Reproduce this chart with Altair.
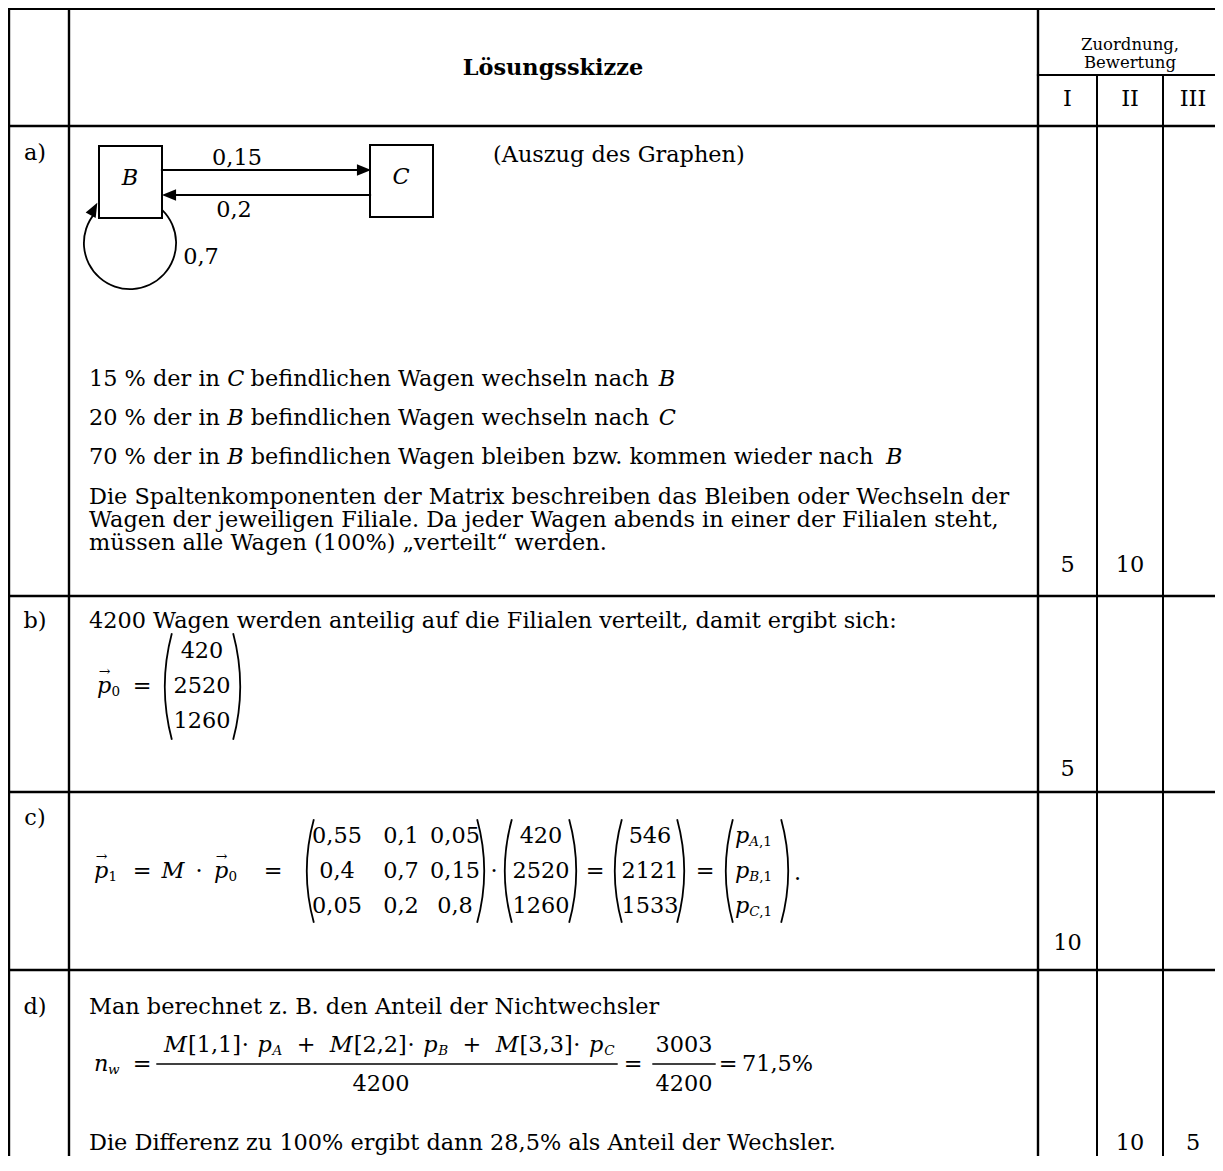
import math
import altair as alt
import pandas as pd

# ---------------- content (values / texts) ----------------
header_title = "Lösungsskizze"
header_side = ["Zuordnung,", "Bewertung"]
levels = ["I", "II", "III"]
part_labels = ["a)", "b)", "c)", "d)"]

graph_nodes = ["B", "C"]
graph_weights = ["0,15", "0,2", "0,7"]
graph_caption = "(Auszug des Graphen)"

a_lines = [
    [("15 % der in ", "r"), ("C", "i"), (" befindlichen Wagen wechseln nach ", "r"), ("B", "i")],
    [("20 % der in ", "r"), ("B", "i"), (" befindlichen Wagen wechseln nach ", "r"), ("C", "i")],
    [("70 % der in ", "r"), ("B", "i"), (" befindlichen Wagen bleiben bzw. kommen wieder nach ", "r"), ("B", "i")],
]
a_paragraph = [
    "Die Spaltenkomponenten der Matrix beschreiben das Bleiben oder Wechseln der",
    "Wagen der jeweiligen Filiale. Da jeder Wagen abends in einer der Filialen steht,",
    "müssen alle Wagen (100%) „verteilt“ werden.",
]
b_text = "4200 Wagen werden anteilig auf die Filialen verteilt, damit ergibt sich:"
p0_values = ["420", "2520", "1260"]
matrix_M = [["0,55", "0,1", "0,05"], ["0,4", "0,7", "0,15"], ["0,05", "0,2", "0,8"]]
p1_values = ["546", "2121", "1533"]
branch_names = ["A", "B", "C"]
d_text1 = "Man berechnet z. B. den Anteil der Nichtwechsler"
d_total = "4200"
d_stay = "3003"
d_result = "71,5%"
d_text2 = "Die Differenz zu 100% ergibt dann 28,5% als Anteil der Wechsler."
scores = [["5", "10", ""], ["5", "", ""], ["10", "", ""], ["", "10", "5"]]

# ---------------- layout (reference pixel coordinates) ----------------
FONT = "DejaVu Serif"
FS = 22.4
FS_SUB = 13.5
FS_SMALL = 16.5
X_DOM = [8, 1215]
Y_DOM = [8, 1156]
W_VIEW = X_DOM[1] - X_DOM[0]
H_VIEW = Y_DOM[1] - Y_DOM[0]

h_lines = [8.7, 126, 596, 792, 970]
v_lines_full = [9, 69, 1038]
v_lines_sub = [1097, 1163]
split_y = 75
right_edge, bottom_edge = 1223, 1171
level_cx = [1067.5, 1130, 1193]
label_cx = 35
label_y = [153, 621, 818, 1007]
score_y = [565, 769, 943, 1143]
text_x0 = 89

# DejaVu Serif advance widths (1/1000 em, approximate)
W_R = {' ': 318, '%': 950, '(': 390, ')': 390, ',': 318, '.': 318, ':': 337, '[': 390, ']': 390,
       '=': 838, '+': 838, '·': 318, '„': 518, '“': 518, 'ü': 644, 'ö': 602,
       'A': 722, 'B': 730, 'C': 729, 'D': 770, 'F': 684, 'M': 872, 'N': 810, 'S': 646, 'W': 1028,
       'a': 596, 'b': 640, 'c': 560, 'd': 640, 'e': 592, 'f': 370, 'g': 640, 'h': 644, 'i': 320,
       'j': 316, 'k': 611, 'l': 320, 'm': 948, 'n': 644, 'o': 602, 'p': 640, 'r': 478, 's': 513,
       't': 402, 'u': 644, 'v': 565, 'w': 856, 'x': 564, 'z': 523}
W_I = {'A': 722, 'B': 730, 'C': 729, 'M': 940, 'p': 640, 'n': 644, 'w': 856}


def tw(s, style, size):
    tab = W_I if style == "i" else W_R
    return sum(tab.get(ch, W_R.get(ch, 636)) for ch in s) * size / 1000.0


texts = []


def add(text, x, y, size=FS, style="r", align="left"):
    texts.append(dict(text=text, x=x, y=y, size=size, style=style, align=align))


def run(pieces, x, y, size=FS):
    for txt, st in pieces:
        lead = len(txt) - len(txt.lstrip(" "))
        s = txt.strip(" ")
        if s:
            add(s, x + tw(" " * lead, "r", size), y, size, st, "left")
        x += tw(txt, st, size)
    return x


def fit_run(tokens, x0, x1, y):
    """place tokens (text, style, size, dy, gap-weight) so they fill x0..x1"""
    total_w = sum(tw(t, st, sz) for t, st, sz, dy, g in tokens)
    total_g = sum(g for t, st, sz, dy, g in tokens)
    k = (x1 - x0 - total_w) / total_g if total_g else 0
    x = x0
    for t, st, sz, dy, g in tokens:
        x += g * k
        add(t, x, y + dy, sz, st, "left")
        x += tw(t, st, sz)


def vec_p(x, y, sub):
    add("p", x, y, FS, "i")
    add("→", x + 7.5, y - 14, 14, "r", "center")
    add(sub, x + 14.5, y + 6, FS_SUB, "r")


rules = []
for y in h_lines:
    rules.append(dict(x=8, x2=right_edge, y=y, y2=y, w=2.4))
rules.append(dict(x=v_lines_full[2], x2=right_edge, y=split_y, y2=split_y, w=2.2))
for x in v_lines_full:
    rules.append(dict(x=x, x2=x, y=8, y2=bottom_edge, w=2.4))
for x in v_lines_sub:
    rules.append(dict(x=x, x2=x, y=split_y, y2=bottom_edge, w=2.0))

# header
add(header_title, 553, 68, FS, "b", "center")
add(header_side[0], level_cx[1], 45, FS_SMALL, "r", "center")
add(header_side[1], level_cx[1], 63, FS_SMALL, "r", "center")
for lv, cx in zip(levels, level_cx):
    add(lv, cx, 99, FS, "r", "center")
for lab, ly in zip(part_labels, label_y):
    add(lab, label_cx, ly, FS, "r", "center")
for row, sy in zip(scores, score_y):
    for val, cx in zip(row, level_cx):
        if val:
            add(val, cx, sy, FS, "r", "center")

# ---- a) graph
boxes = pd.DataFrame([dict(x=99, x2=162, y=146, y2=218), dict(x=370, x2=433, y=145, y2=217)])
add(graph_nodes[0], 130, 178, FS, "i", "center")
add(graph_nodes[1], 401, 177, FS, "i", "center")
add(graph_weights[0], 237, 158, FS, "r", "center")
add(graph_weights[1], 234, 210, FS, "r", "center")
add(graph_weights[2], 201, 257, FS, "r", "center")
add(graph_caption, 493, 155, FS, "r", "left")
rules.append(dict(x=162, x2=358, y=170, y2=170, w=2.2))
rules.append(dict(x=176, x2=370, y=195, y2=195, w=2.2))
heads = pd.DataFrame([dict(x=364, y=170, a=0), dict(x=169, y=195, a=180), dict(x=94, y=209, a=298)])

arcs = [dict(x=130, y=243, r=47, r2=45.2, t1=math.radians(44), t2=math.radians(310))]


def bracket(xb, top, bot, side, s=7.0, w=1.8):
    h = bot - top
    R = (h * h / 4 + s * s) / (2 * s)
    a = math.asin(h / 2 / R)
    ym = (top + bot) / 2
    if side == "L":
        cx, mid = xb + R, 1.5 * math.pi
    else:
        cx, mid = xb - R, 0.5 * math.pi
    arcs.append(dict(x=cx, y=ym, r=R, r2=R - w, t1=mid - a, t2=mid + a))


for pieces, y in zip(a_lines, [379, 418, 457]):
    run(pieces, text_x0, y)
for line, y in zip(a_paragraph, [497, 520, 543]):
    add(line, text_x0, y)

# ---- b)
add(b_text, text_x0, 621)
b_rows = [651, 686, 721]
vec_p(97, b_rows[1], "0")
add("=", 142, b_rows[1], FS, "r", "center")
for v, y in zip(p0_values, b_rows):
    add(v, 202, y, FS, "r", "center")
bracket(164, 633, 740, "L")
bracket(241, 633, 740, "R")

# ---- c)
c_rows = [836, 871, 906]
c_mid = c_rows[1]
c_top, c_bot = 819, 923
vec_p(94, c_mid, "1")
add("=", 142, c_mid, FS, "r", "center")
add("M", 173, c_mid, FS, "i", "center")
add("·", 199, c_mid, FS, "r", "center")
vec_p(214, c_mid, "0")
add("=", 273, c_mid, FS, "r", "center")
for row, y in zip(matrix_M, c_rows):
    for v, cx in zip(row, [337, 401, 455]):
        add(v, cx, y, FS, "r", "center")
bracket(306, c_top, c_bot, "L")
bracket(485, c_top, c_bot, "R")
add("·", 494, c_mid, FS, "r", "center")
for v, y in zip(p0_values, c_rows):
    add(v, 541, y, FS, "r", "center")
bracket(504, c_top, c_bot, "L")
bracket(577, c_top, c_bot, "R")
add("=", 595, c_mid, FS, "r", "center")
for v, y in zip(p1_values, c_rows):
    add(v, 650, y, FS, "r", "center")
bracket(614, c_top, c_bot, "L")
bracket(685, c_top, c_bot, "R")
add("=", 705, c_mid, FS, "r", "center")
for nm, y in zip(branch_names, c_rows):
    add("p", 735, y, FS, "i")
    xs = 735 + tw("p", "i", FS)
    add(nm, xs, y + 6, FS_SUB, "i")
    add(",1", xs + tw(nm, "i", FS_SUB), y + 6, FS_SUB, "r")
bracket(725, c_top, c_bot, "L")
bracket(789, c_top, c_bot, "R")
add(".", 794, c_mid + 2)

# ---- d)
add(d_text1, text_x0, 1007)
d_mid = 1064
add("n", 94, d_mid, FS, "i")
add("w", 108, d_mid + 6, FS_SUB, "i")
add("=", 142, d_mid, FS, "r", "center")
num_tokens = []
for k, nm in enumerate(branch_names, start=1):
    if k > 1:
        num_tokens.append(("+", "r", FS, 0, 1))
    num_tokens += [("M", "i", FS, 0, 1 if k > 1 else 0), (f"[{k},{k}]", "r", FS, 0, 0.2),
                   ("·", "r", FS, 0, 0.05), ("p", "i", FS, 0, 0.6), (nm, "i", FS_SUB, 6, 0.05)]
fit_run(num_tokens, 164, 614, 1045)
rules.append(dict(x=157, x2=617, y=d_mid, y2=d_mid, w=1.4))
add(d_total, 381, 1084, FS, "r", "center")
add("=", 633, d_mid, FS, "r", "center")
add(d_stay, 684, 1045, FS, "r", "center")
rules.append(dict(x=653, x2=715, y=d_mid, y2=d_mid, w=1.4))
add(d_total, 684, 1084, FS, "r", "center")
add("=", 728, d_mid, FS, "r", "center")
add(d_result, 742, d_mid)
add(d_text2, text_x0, 1143)

# ---------------- chart ----------------
X = alt.X("x:Q", scale=alt.Scale(domain=X_DOM, nice=False, zero=False), axis=None)
Y = alt.Y("y:Q", scale=alt.Scale(domain=Y_DOM, nice=False, zero=False, reverse=True), axis=None)

rules_df = pd.DataFrame(rules)
rule_layer = alt.Chart(rules_df).mark_rule(color="black", strokeCap="square").encode(
    x=X, x2="x2:Q", y=Y, y2="y2:Q", strokeWidth=alt.StrokeWidth("w:Q", scale=None, legend=None)
)
box_layer = alt.Chart(boxes).mark_rect(fill="white", fillOpacity=0, stroke="black", strokeWidth=2).encode(
    x=X, x2="x2:Q", y=Y, y2="y2:Q"
)
head_layer = alt.Chart(heads).mark_point(
    shape="M -1 -0.8 L 1 0 L -1 0.8 Z", filled=True, color="black", opacity=1, size=200, strokeWidth=0
).encode(x=X, y=Y, angle=alt.Angle("a:Q", scale=None))
arc_layer = alt.Chart(pd.DataFrame(arcs)).mark_arc(color="black").encode(
    x=X, y=Y,
    theta=alt.Theta("t1:Q", scale=None, stack=False), theta2="t2:Q",
    radius=alt.Radius("r:Q", scale=None), radius2="r2:Q",
)

tdf = pd.DataFrame(texts)
text_layers = []
for (st, al), sub in tdf.groupby(["style", "align"]):
    kw = dict(font=FONT, align=al, baseline="middle", color="black")
    if st == "i":
        kw["fontStyle"] = "italic"
    if st == "b":
        kw["fontWeight"] = "bold"
    text_layers.append(
        alt.Chart(sub.reset_index(drop=True)).mark_text(**kw).encode(
            x=X, y=Y, text="text:N", size=alt.Size("size:Q", scale=None, legend=None)
        )
    )

chart = alt.layer(rule_layer, box_layer, head_layer, arc_layer, *text_layers).properties(
    width=W_VIEW, height=H_VIEW, padding=0, autosize=alt.AutoSizeParams(type="none"),
    background="white",
).configure_view(stroke=None)

chart.save("out.html", embed_options={"renderer": "svg", "actions": False})
